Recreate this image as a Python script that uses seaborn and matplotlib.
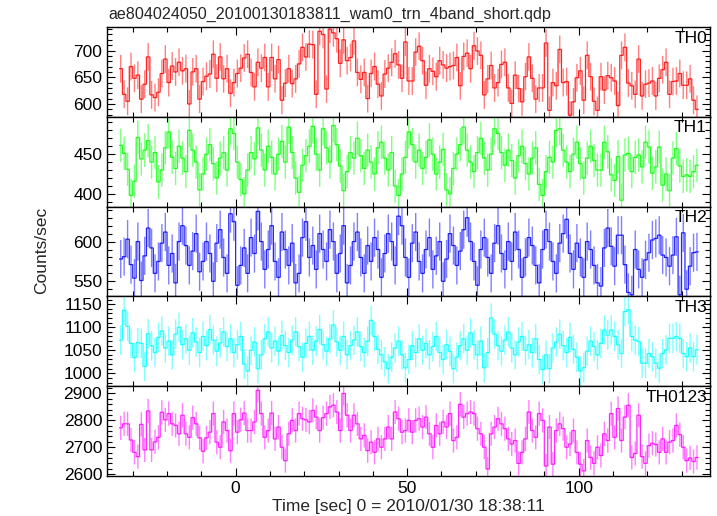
import numpy as np
import pandas as pd
import matplotlib
matplotlib.use("Agg")
import matplotlib.pyplot as plt
import seaborn as sns
from matplotlib.ticker import MultipleLocator

sns.set_theme(style="white")
plt.rcParams['font.family'] = ['Liberation Sans', 'DejaVu Sans']

title = "ae804024050_20100130183811_wam0_trn_4band_short.qdp"
t_start = -34.0   # left edge of first 1-s bin
bin_width = 1.0

th0 = [666, 618, 605, 670, 648, 654, 609, 637, 688, 617, 612, 622, 657, 684, 640, 671, 660, 678, 662, 666,
       600, 660, 666, 609, 642, 652, 656, 693, 648, 688, 647, 666, 620, 640, 657, 667, 686, 693, 659, 632,
       678, 667, 687, 632, 687, 647, 683, 607, 639, 666, 638, 647, 675, 706, 688, 712, 711, 618, 736, 730,
       628, 740, 733, 722, 676, 720, 681, 687, 718, 659, 646, 659, 610, 657, 670, 637, 615, 656, 667, 678,
       694, 673, 648, 716, 643, 643, 697, 708, 681, 635, 666, 661, 651, 681, 673, 667, 670, 672, 687, 634,
       689, 695, 666, 709, 699, 691, 617, 647, 672, 630, 640, 674, 678, 630, 601, 654, 629, 604, 651, 688,
       648, 609, 630, 630, 714, 588, 640, 634, 702, 640, 642, 579, 604, 649, 662, 607, 691, 651, 605, 588,
       651, 626, 653, 649, 643, 597, 691, 706, 639, 634, 618, 684, 615, 637, 639, 643, 615, 648, 664, 678,
       618, 642, 643, 657, 635, 635, 647, 607, 590]
th1 = [461, 451, 431, 398, 416, 471, 444, 455, 467,
       440, 452, 415, 430, 458, 478, 446, 432, 460, 445,
       428, 480, 455, 440, 405, 425, 450, 462, 438, 420,
       445, 452, 430, 482, 476, 440, 418, 400, 430, 452,
       444, 483, 455, 430, 460, 446, 425, 450, 466, 440,
       484, 452, 420, 402, 436, 448, 460, 485, 450, 430,
       482, 458, 440, 486, 462, 435, 404, 428, 452, 445,
       470, 448, 432, 455, 440, 425, 458, 465, 445, 430,
       452, 410, 398, 425, 446, 478, 462, 440, 455, 432,
       446, 468, 450, 425, 440, 456, 405, 400, 432, 450,
       462, 484, 455, 440, 428, 452, 470, 445, 430, 450,
       482, 476, 452, 436, 455, 442, 420, 448, 460, 438,
       425, 445, 458, 412, 398, 428, 446, 440, 480, 482,
       455, 440, 428, 450, 465, 438, 420, 445, 460, 442, 430,
       430, 465, 453, 424, 417, 447, 392, 449, 451, 428, 446, 449, 434, 465, 459,
       426, 434, 459, 411, 425, 404, 445, 457, 435, 422, 424, 422, 428, 436]
th2 = [578, 581, 603, 571, 554, 600, 551, 582, 617,
       592, 560, 575, 598, 612, 570, 585, 548, 600, 620,
       595, 570, 588, 610, 562, 575, 600, 585, 550, 598,
       615, 580, 560, 635, 625, 545, 570, 592, 560, 605,
       585, 638, 600, 565, 590, 620, 575, 555, 612, 590,
       570, 598, 548, 560, 605, 625, 580, 595, 565, 610,
       590, 575, 615, 600, 560, 585, 620, 548, 570, 600,
       612, 580, 560, 595, 575, 605, 590, 555, 585, 610,
       600, 570, 632, 620, 580, 555, 598, 612, 575, 560,
       590, 605, 565, 582, 600, 550, 578, 610, 595, 570,
       588, 615, 630, 600, 575, 545, 590, 605, 580, 560,
       598, 620, 585, 565, 600, 575, 612, 590, 555, 580,
       605, 595, 570, 548, 590, 615, 600, 575, 560, 598,
       610, 628, 585, 565, 598, 580, 555, 600, 590, 570, 548,
       544, 592, 617, 594, 569, 608, 608, 571, 536, 533, 590, 565, 555, 577, 586,
       602, 604, 608, 583, 580, 569, 583, 606, 533, 611, 540, 569, 586, 587]
th3 = [1072, 1137, 1102, 1065, 1034, 1067, 1065, 1015, 1086,
       1060, 1045, 1078, 1092, 1055, 1070, 1040, 1085, 1100, 1062,
       1075, 1050, 1088, 1068, 1045, 1080, 1060, 1095, 1072, 1048,
       1066, 1090, 1058, 1075, 1045, 1062, 1080, 1020, 1005, 1050,
       1068, 1010, 1040, 1075, 1090, 1055, 1070, 1048, 1082, 1060,
       1045, 1072, 1090, 1058, 1035, 1065, 1080, 1050, 1070, 1095,
       1062, 1048, 1075, 1105, 1068, 1050, 1080, 1040, 1060, 1072,
       1090, 1058, 1045, 1070, 1115, 1080, 1052, 1040, 1025, 1010,
       1035, 1055, 1070, 1040, 1012, 1030, 1060, 1045, 1075, 1050,
       1065, 1040, 1058, 1080, 1045, 1030, 1062, 1048, 1010, 1035,
       1060, 1075, 1050, 1088, 1062, 1040, 1070, 1012, 1045, 1120,
       1085, 1060, 1048, 1072, 1090, 1055, 1040, 1068, 1080, 1050,
       1062, 1045, 1075, 1030, 1008, 1040, 1010, 1055, 1068, 1085,
       1060, 1045, 1078, 1052, 1035, 1005, 1012, 1048, 1070, 1058, 1040,
       1065, 1094, 1083, 1094, 1080, 1062, 1043, 1134, 1138, 1080, 1072, 1069, 1022, 1022, 1043,
       1036, 1022, 1011, 1043, 1051, 1076, 1076, 1080, 1076, 1043, 1036, 1055, 1036, 1051]
th0123 = [2772, 2787, 2787, 2727, 2681, 2665, 2785, 2690, 2835,
          2690, 2720, 2737, 2830, 2802, 2825, 2787, 2781, 2750,
          2819, 2750, 2737, 2810, 2787, 2735, 2685, 2735, 2756, 2825,
          2719, 2700, 2794, 2762, 2687, 2825, 2756, 2802, 2827, 2762,
          2762, 2794, 2912, 2825, 2737, 2762, 2827, 2731, 2775, 2700,
          2650, 2750, 2800, 2762, 2825, 2806, 2802, 2794, 2837, 2812,
          2762, 2810, 2825, 2850, 2856, 2831, 2762, 2900, 2819, 2762,
          2819, 2787, 2731, 2744, 2687, 2719, 2681, 2731, 2700, 2731,
          2775, 2731, 2831, 2806, 2756, 2762, 2800, 2756, 2800, 2806,
          2775, 2812, 2750, 2700, 2781, 2750, 2794, 2775, 2825, 2725,
          2737, 2860, 2812, 2825, 2831, 2825, 2769, 2750, 2700, 2619,
          2750, 2775, 2806, 2787, 2769, 2731, 2712, 2725, 2640, 2681,
          2731, 2831, 2762, 2737, 2825, 2800, 2630, 2775, 2637, 2762,
          2787, 2769, 2700, 2712, 2762, 2681, 2637, 2612, 2725, 2662,
          2640, 2700, 2669, 2750, 2725, 2825, 2737, 2844,
          2725, 2812, 2856, 2662, 2677, 2819, 2665, 2640, 2706, 2715, 2710, 2681,
          2731, 2681, 2719, 2725, 2781, 2747, 2700, 2650, 2660, 2647, 2662]

series = [th0, th1, th2, th3, th0123]
names = ["TH0", "TH1", "TH2", "TH3", "TH0123"]
colors = ["#ff0000", "#00ff00", "#0000ff", "#00ffff", "#ff00ff"]
errors = [26, 21, 24, 32, 45]
ylims = [(576, 744), (384, 497), (531, 644), (972, 1167), (2593, 2927)]
yticks = [[600, 650, 700], [400, 450], [550, 600], [1000, 1050, 1100, 1150], [2600, 2700, 2800, 2900]]
yminor = [10, 10, 10, 10, 20]

fig = plt.figure(figsize=(7.17, 5.16), dpi=100)
gs = fig.add_gridspec(5, 1, left=107/717, right=710/717, top=1-27/516, bottom=1-476/516, hspace=0)
axes = [fig.add_subplot(gs[i]) for i in range(5)]

for i, ax in enumerate(axes):
    vals = np.asarray(series[i], dtype=float)
    n = len(vals)
    edges = t_start + bin_width * np.arange(n + 1)
    centers = edges[:-1] + bin_width / 2
    _, _, bars = ax.errorbar(centers, vals, yerr=errors[i], fmt="none", ecolor=colors[i],
                             elinewidth=1.0, alpha=0.5, capsize=0)
    for b in bars:
        b.set_snap(False)
    df = pd.DataFrame({"t": edges, "rate": np.append(vals, vals[-1])})
    sns.lineplot(data=df, x="t", y="rate", ax=ax, color=colors[i], linewidth=0.9,
                 drawstyle="steps-post", estimator=None, sort=False, alpha=0.85)
    for ln in ax.lines:
        ln.set_color(colors[i])
        ln.set_snap(False)
        ln.set_solid_capstyle("butt")
        ln.set_solid_joinstyle("miter")
    ax.set_xlim(-37.5, 138.3)
    ax.set_ylim(*ylims[i])
    ax.set_yticks(yticks[i])
    ax.yaxis.set_minor_locator(MultipleLocator(yminor[i]))
    ax.xaxis.set_major_locator(MultipleLocator(50))
    ax.xaxis.set_minor_locator(MultipleLocator(10))
    ax.tick_params(which="both", direction="in", top=True, right=True, bottom=True, left=True,
                   colors="black", labelsize=12.5, width=0.8)
    ax.tick_params(which="major", length=6)
    ax.tick_params(which="minor", length=3.5)
    ax.set_xlabel("")
    ax.set_ylabel("")
    for s in ax.spines.values():
        s.set_color("black")
        s.set_linewidth(1.0)
        s.set_zorder(5)
    ax.text(0.995, 0.96, names[i], transform=ax.transAxes, ha="right", va="top",
            fontsize=12.5, color="black", zorder=6)
    if i < 4:
        ax.tick_params(labelbottom=False)

fig.text(108/717, 1 - 14/516, title, ha="left", va="center", fontsize=11.6)
fig.text(42/717, 1 - 250/516, "Counts/sec", rotation=90, ha="center", va="center", fontsize=12.5)
fig.text(408/717, 1 - 507/516, "Time [sec] 0 = 2010/01/30 18:38:11", ha="center", va="center", fontsize=12.5)

fig.savefig("out.png", dpi=100)
